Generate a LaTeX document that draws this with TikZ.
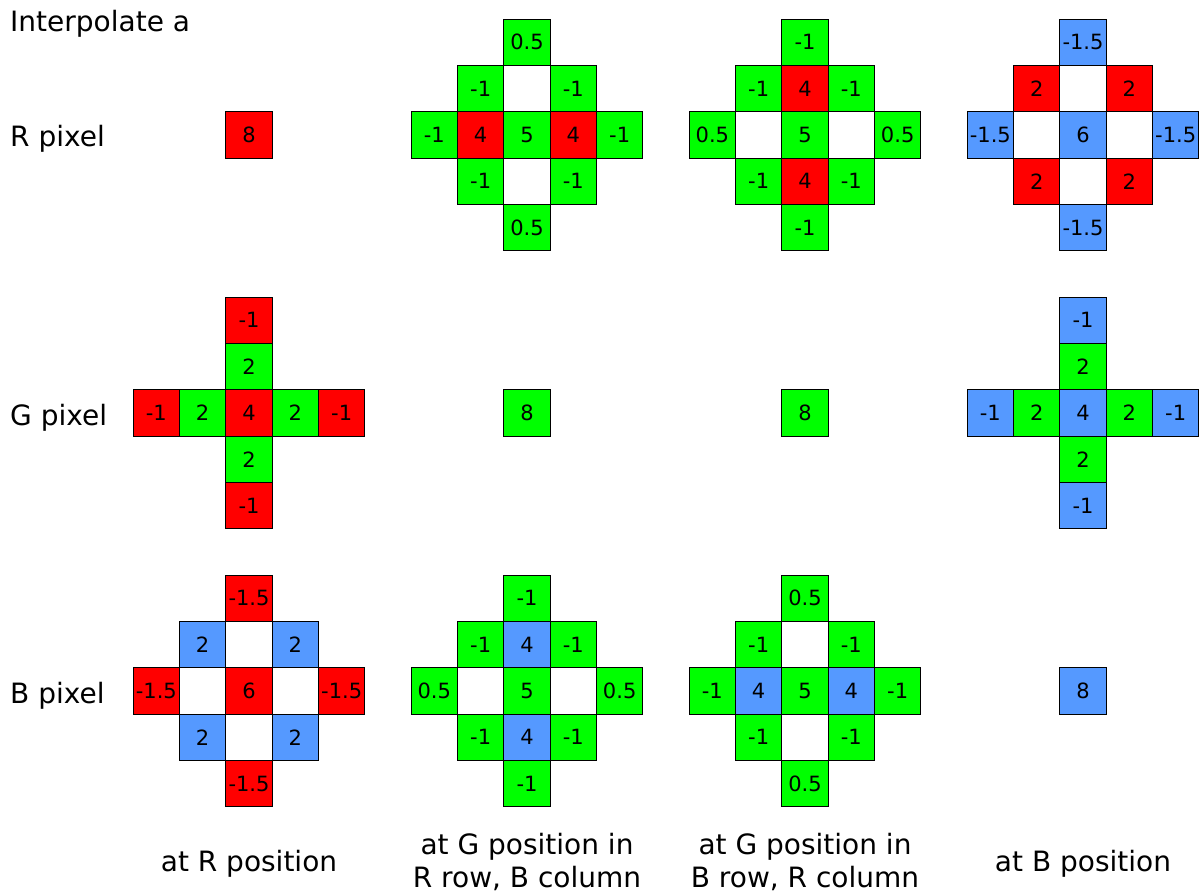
\documentclass[tikz,border=0pt]{standalone}
\usepackage{fontspec}
\setmainfont{DejaVu Sans}
\definecolor{cr}{RGB}{255,0,0}
\definecolor{cg}{RGB}{0,255,0}
\definecolor{cb}{RGB}{85,153,255}
\tikzset{
 cellbox/.style={draw=black, line width=1.2pt, minimum size=46.333pt, inner sep=0pt, font=\fontsize{21}{25}\selectfont},
 lbl/.style={font=\fontsize{28}{33}\selectfont, inner sep=0pt},
}
\newcommand{\pc}[5]{\node[cellbox,fill=#4] (#1) at (#2,#3) {#5};}
\begin{document}
\begin{tikzpicture}[x=46.333pt,y=-46.333pt]
\useasboundingbox (0pt,0pt) rectangle (1204pt,-893pt);
% labels
\node[lbl,anchor=base west] (title) at (10pt,-32pt) {Interpolate a};
\node[lbl,anchor=base west] (rp) at (10pt,-147pt) {R pixel};
\node[lbl,anchor=base west] (gp) at (10pt,-425pt) {G pixel};
\node[lbl,anchor=base west] (bp) at (10pt,-703pt) {B pixel};
\node[lbl,anchor=base] (l1) at (249pt,-871.5pt) {at R position};
\node[lbl,align=center] (l2) at (527pt,-862pt) {at G position in\\R row, B column};
\node[lbl,align=center] (l3) at (805pt,-862pt) {at G position in\\B row, R column};
\node[lbl,anchor=base] (l4) at (1083pt,-871.5pt) {at B position};
% ---------- row R ----------
\begin{scope}[shift={(249pt,-135pt)}]
\pc{a1c}{0}{0}{cr}{8}
\end{scope}
\begin{scope}[shift={(527pt,-135pt)}]
\pc{a2n}{0}{-2}{cg}{0.5}
\pc{a2nw}{-1}{-1}{cg}{-1}
\pc{a2u}{0}{-1}{white}{}
\pc{a2ne}{1}{-1}{cg}{-1}
\pc{a2ww}{-2}{0}{cg}{-1}
\pc{a2w}{-1}{0}{cr}{4}
\pc{a2c}{0}{0}{cg}{5}
\pc{a2e}{1}{0}{cr}{4}
\pc{a2ee}{2}{0}{cg}{-1}
\pc{a2sw}{-1}{1}{cg}{-1}
\pc{a2d}{0}{1}{white}{}
\pc{a2se}{1}{1}{cg}{-1}
\pc{a2s}{0}{2}{cg}{0.5}
\end{scope}
\begin{scope}[shift={(805pt,-135pt)}]
\pc{a3n}{0}{-2}{cg}{-1}
\pc{a3nw}{-1}{-1}{cg}{-1}
\pc{a3u}{0}{-1}{cr}{4}
\pc{a3ne}{1}{-1}{cg}{-1}
\pc{a3ww}{-2}{0}{cg}{0.5}
\pc{a3w}{-1}{0}{white}{}
\pc{a3c}{0}{0}{cg}{5}
\pc{a3e}{1}{0}{white}{}
\pc{a3ee}{2}{0}{cg}{0.5}
\pc{a3sw}{-1}{1}{cg}{-1}
\pc{a3d}{0}{1}{cr}{4}
\pc{a3se}{1}{1}{cg}{-1}
\pc{a3s}{0}{2}{cg}{-1}
\end{scope}
\begin{scope}[shift={(1083pt,-135pt)}]
\pc{a4n}{0}{-2}{cb}{-1.5}
\pc{a4nw}{-1}{-1}{cr}{2}
\pc{a4u}{0}{-1}{white}{}
\pc{a4ne}{1}{-1}{cr}{2}
\pc{a4ww}{-2}{0}{cb}{-1.5}
\pc{a4w}{-1}{0}{white}{}
\pc{a4c}{0}{0}{cb}{6}
\pc{a4e}{1}{0}{white}{}
\pc{a4ee}{2}{0}{cb}{-1.5}
\pc{a4sw}{-1}{1}{cr}{2}
\pc{a4d}{0}{1}{white}{}
\pc{a4se}{1}{1}{cr}{2}
\pc{a4s}{0}{2}{cb}{-1.5}
\end{scope}
% ---------- row G ----------
\begin{scope}[shift={(249pt,-413pt)}]
\pc{b1n}{0}{-2}{cr}{-1}
\pc{b1u}{0}{-1}{cg}{2}
\pc{b1ww}{-2}{0}{cr}{-1}
\pc{b1w}{-1}{0}{cg}{2}
\pc{b1c}{0}{0}{cr}{4}
\pc{b1e}{1}{0}{cg}{2}
\pc{b1ee}{2}{0}{cr}{-1}
\pc{b1d}{0}{1}{cg}{2}
\pc{b1s}{0}{2}{cr}{-1}
\end{scope}
\begin{scope}[shift={(527pt,-413pt)}]
\pc{b2c}{0}{0}{cg}{8}
\end{scope}
\begin{scope}[shift={(805pt,-413pt)}]
\pc{b3c}{0}{0}{cg}{8}
\end{scope}
\begin{scope}[shift={(1083pt,-413pt)}]
\pc{b4n}{0}{-2}{cb}{-1}
\pc{b4u}{0}{-1}{cg}{2}
\pc{b4ww}{-2}{0}{cb}{-1}
\pc{b4w}{-1}{0}{cg}{2}
\pc{b4c}{0}{0}{cb}{4}
\pc{b4e}{1}{0}{cg}{2}
\pc{b4ee}{2}{0}{cb}{-1}
\pc{b4d}{0}{1}{cg}{2}
\pc{b4s}{0}{2}{cb}{-1}
\end{scope}
% ---------- row B ----------
\begin{scope}[shift={(249pt,-691pt)}]
\pc{c1n}{0}{-2}{cr}{-1.5}
\pc{c1nw}{-1}{-1}{cb}{2}
\pc{c1u}{0}{-1}{white}{}
\pc{c1ne}{1}{-1}{cb}{2}
\pc{c1ww}{-2}{0}{cr}{-1.5}
\pc{c1w}{-1}{0}{white}{}
\pc{c1c}{0}{0}{cr}{6}
\pc{c1e}{1}{0}{white}{}
\pc{c1ee}{2}{0}{cr}{-1.5}
\pc{c1sw}{-1}{1}{cb}{2}
\pc{c1d}{0}{1}{white}{}
\pc{c1se}{1}{1}{cb}{2}
\pc{c1s}{0}{2}{cr}{-1.5}
\end{scope}
\begin{scope}[shift={(527pt,-691pt)}]
\pc{c2n}{0}{-2}{cg}{-1}
\pc{c2nw}{-1}{-1}{cg}{-1}
\pc{c2u}{0}{-1}{cb}{4}
\pc{c2ne}{1}{-1}{cg}{-1}
\pc{c2ww}{-2}{0}{cg}{0.5}
\pc{c2w}{-1}{0}{white}{}
\pc{c2c}{0}{0}{cg}{5}
\pc{c2e}{1}{0}{white}{}
\pc{c2ee}{2}{0}{cg}{0.5}
\pc{c2sw}{-1}{1}{cg}{-1}
\pc{c2d}{0}{1}{cb}{4}
\pc{c2se}{1}{1}{cg}{-1}
\pc{c2s}{0}{2}{cg}{-1}
\end{scope}
\begin{scope}[shift={(805pt,-691pt)}]
\pc{c3n}{0}{-2}{cg}{0.5}
\pc{c3nw}{-1}{-1}{cg}{-1}
\pc{c3u}{0}{-1}{white}{}
\pc{c3ne}{1}{-1}{cg}{-1}
\pc{c3ww}{-2}{0}{cg}{-1}
\pc{c3w}{-1}{0}{cb}{4}
\pc{c3c}{0}{0}{cg}{5}
\pc{c3e}{1}{0}{cb}{4}
\pc{c3ee}{2}{0}{cg}{-1}
\pc{c3sw}{-1}{1}{cg}{-1}
\pc{c3d}{0}{1}{white}{}
\pc{c3se}{1}{1}{cg}{-1}
\pc{c3s}{0}{2}{cg}{0.5}
\end{scope}
\begin{scope}[shift={(1083pt,-691pt)}]
\pc{c4c}{0}{0}{cb}{8}
\end{scope}
\end{tikzpicture}
\end{document}
